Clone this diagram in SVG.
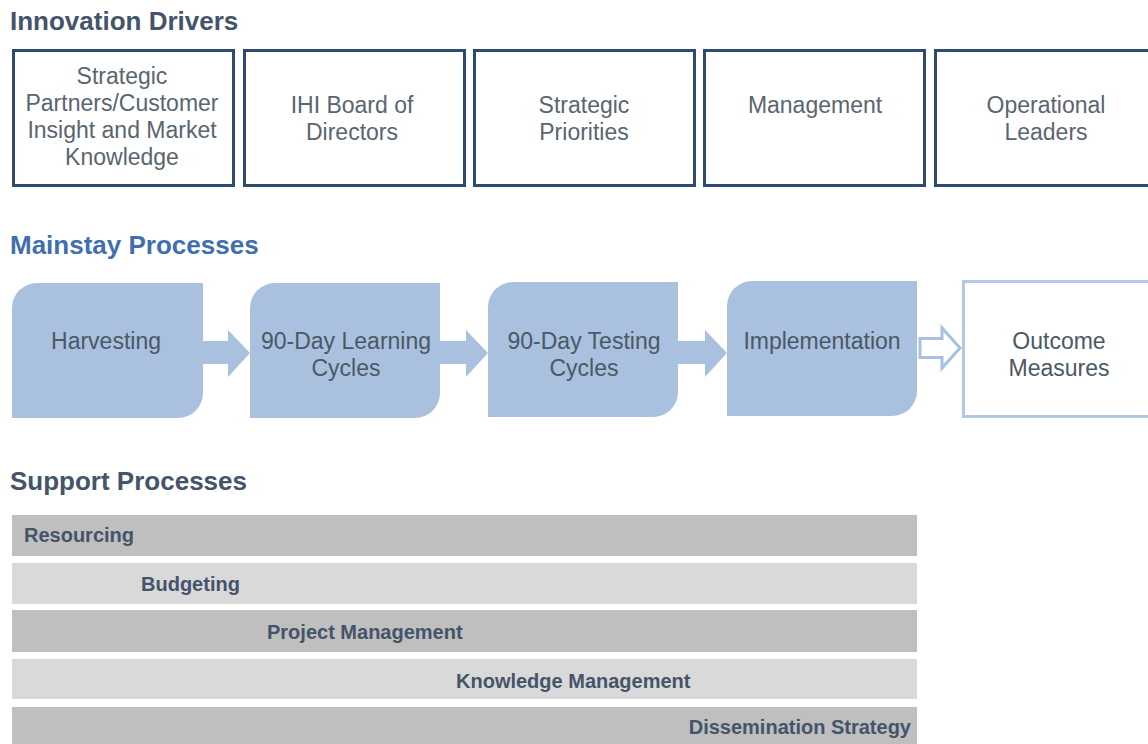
<svg xmlns="http://www.w3.org/2000/svg" width="1148" height="744" viewBox="0 0 1148 744">
<style>
.h{font-family:"Liberation Sans",Arial,sans-serif;font-weight:bold;font-size:26px}
.drv rect{fill:#fff;stroke:#2e4a6e;stroke-width:3}
.drv text{font-family:"Liberation Sans",Arial,sans-serif;font-size:23px;fill:#5a6570;text-anchor:middle}
.ms path{fill:#a9c1de}
.ms text{font-family:"Liberation Sans",Arial,sans-serif;font-size:23px;fill:#4b5865;text-anchor:middle}
.arr{fill:#a9c1de}
.sp text{font-family:"Liberation Sans",Arial,sans-serif;font-weight:bold;font-size:20px;fill:#44546a}
.dk{fill:#bfbfbf}.lt{fill:#d9d9d9}
</style>
<rect width="1148" height="744" fill="#fff"/>
<text class="h" x="10" y="30" fill="#44546a">Innovation Drivers</text>
<text class="h" x="10" y="254" fill="#3f6fae">Mainstay Processes</text>
<text class="h" x="10" y="490" fill="#44546a">Support Processes</text>

<g id="driver-strategic-partners" class="drv"><rect x="13.5" y="50.5" width="220" height="135"/>
<text x="122" y="84">Strategic</text><text x="122" y="111">Partners/Customer</text><text x="122" y="138">Insight and Market</text><text x="122" y="165">Knowledge</text></g>
<g id="driver-ihi-board" class="drv"><rect x="244.5" y="50.5" width="220" height="135"/>
<text x="352" y="113">IHI Board of</text><text x="352" y="140">Directors</text></g>
<g id="driver-strategic-priorities" class="drv"><rect x="474.5" y="50.5" width="220" height="135"/>
<text x="584" y="113">Strategic</text><text x="584" y="140">Priorities</text></g>
<g id="driver-management" class="drv"><rect x="704.5" y="50.5" width="220" height="135"/>
<text x="815" y="113">Management</text></g>
<g id="driver-operational-leaders" class="drv"><rect x="935.5" y="50.5" width="220" height="135"/>
<text x="1046" y="113">Operational</text><text x="1046" y="140">Leaders</text></g>

<g id="connectors">
<polygon class="arr" points="200,341 228,341 228,330 250,353 228,377 228,364 200,364"/>
<polygon class="arr" points="437,341 466,341 466,330 488,353 466,377 466,364 437,364"/>
<polygon class="arr" points="675,341 705,341 705,330 727,353 705,377 705,364 675,364"/>
<polygon points="920,338.5 942,338.5 942,328 960,348 942,368 942,357.5 920,357.5" fill="#fff" stroke="#a9c1de" stroke-width="3" stroke-linejoin="miter"/>
</g>

<g id="harvesting" class="ms"><path d="M37,283 H203 V393 A25,25 0 0 1 178,418 H12 V308 A25,25 0 0 1 37,283 Z"/>
<text x="106" y="349">Harvesting</text></g>
<g id="learning-cycles" class="ms"><path d="M275,283 H440 V393 A25,25 0 0 1 415,418 H250 V308 A25,25 0 0 1 275,283 Z"/>
<text x="346" y="349">90-Day Learning</text><text x="346" y="376">Cycles</text></g>
<g id="testing-cycles" class="ms"><path d="M513,282 H678 V392 A25,25 0 0 1 653,417 H488 V307 A25,25 0 0 1 513,282 Z"/>
<text x="584" y="349">90-Day Testing</text><text x="584" y="376">Cycles</text></g>
<g id="implementation" class="ms"><path d="M752,281 H917 V391 A25,25 0 0 1 892,416 H727 V306 A25,25 0 0 1 752,281 Z"/>
<text x="822" y="349">Implementation</text></g>
<g id="outcome-measures"><rect x="963.5" y="281.5" width="200" height="135" fill="#fff" stroke="#b4c8e4" stroke-width="3"/>
<text x="1059" y="349" font-family="Liberation Sans, Arial, sans-serif" font-size="23" fill="#4b5865" text-anchor="middle">Outcome</text>
<text x="1059" y="376" font-family="Liberation Sans, Arial, sans-serif" font-size="23" fill="#4b5865" text-anchor="middle">Measures</text></g>

<g id="resourcing" class="sp"><rect class="dk" x="12" y="515" width="905" height="41"/><text x="24" y="542">Resourcing</text></g>
<g id="budgeting" class="sp"><rect class="lt" x="12" y="563" width="905" height="41"/><text x="141" y="591">Budgeting</text></g>
<g id="project-management" class="sp"><rect class="dk" x="12" y="610" width="905" height="42"/><text x="267" y="639">Project Management</text></g>
<g id="knowledge-management" class="sp"><rect class="lt" x="12" y="659" width="905" height="40"/><text x="456" y="688">Knowledge Management</text></g>
<g id="dissemination-strategy" class="sp"><rect class="dk" x="12" y="707" width="905" height="40"/><text x="911" y="734" text-anchor="end">Dissemination Strategy</text></g>
</svg>
